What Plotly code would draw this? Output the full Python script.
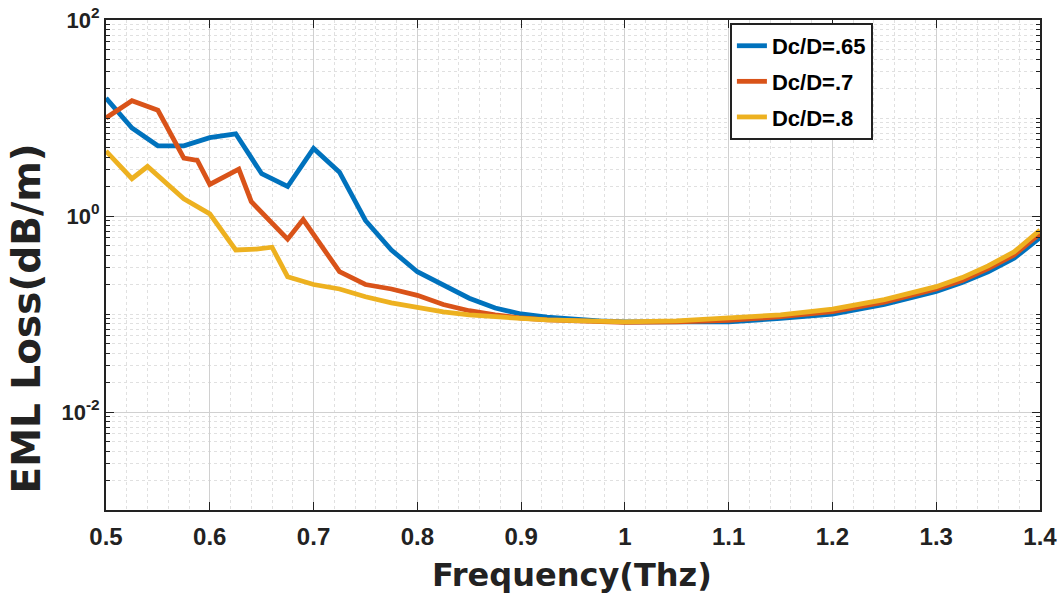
import plotly.graph_objects as go

# Frequency (THz) and EML loss (dB/m) for three core-diameter ratios
freq_065 = [0.5, 0.525, 0.55, 0.575, 0.6, 0.625, 0.65, 0.675, 0.7, 0.725, 0.75, 0.775,
            0.8, 0.825, 0.85, 0.875, 0.9, 0.925, 0.95, 0.975, 1.0, 1.05, 1.1, 1.15,
            1.2, 1.25, 1.3, 1.325, 1.35, 1.375, 1.4]
loss_065 = [16, 7.9, 5.2, 5.2, 6.3, 6.9, 2.7, 2.0, 4.9, 2.8, 0.9, 0.45,
            0.27, 0.2, 0.145, 0.115, 0.1, 0.093, 0.088, 0.085, 0.083, 0.082, 0.083, 0.09,
            0.1, 0.125, 0.17, 0.21, 0.27, 0.37, 0.6]

freq_07 = [0.5, 0.525, 0.55, 0.575, 0.588, 0.6, 0.628, 0.64, 0.675, 0.69, 0.725, 0.75,
           0.775, 0.8, 0.825, 0.85, 0.875, 0.9, 0.925, 0.95, 0.975, 1.0, 1.05, 1.1,
           1.15, 1.2, 1.25, 1.3, 1.325, 1.35, 1.375, 1.4]
loss_07 = [10, 15, 12, 3.9, 3.7, 2.1, 3.0, 1.4, 0.58, 0.92, 0.27, 0.2,
           0.18, 0.155, 0.125, 0.108, 0.098, 0.091, 0.087, 0.085, 0.083, 0.082, 0.083, 0.086,
           0.094, 0.106, 0.132, 0.18, 0.22, 0.29, 0.4, 0.66]

freq_08 = [0.5, 0.525, 0.54, 0.575, 0.6, 0.625, 0.645, 0.66, 0.675, 0.7, 0.725, 0.75,
           0.775, 0.8, 0.825, 0.85, 0.875, 0.9, 0.925, 0.95, 0.975, 1.0, 1.05, 1.1,
           1.15, 1.2, 1.25, 1.3, 1.325, 1.35, 1.375, 1.4]
loss_08 = [4.6, 2.4, 3.2, 1.5, 1.05, 0.45, 0.46, 0.48, 0.24, 0.2, 0.18, 0.15,
           0.13, 0.117, 0.105, 0.098, 0.093, 0.09, 0.087, 0.085, 0.084, 0.083, 0.085, 0.09,
           0.098, 0.112, 0.14, 0.19, 0.235, 0.31, 0.43, 0.72]

series_names = ["Dc/D=.65", "Dc/D=.7", "Dc/D=.8"]
colors = ["#0072BD", "#D95319", "#EDB120"]

x_ticks = [0.5, 0.6, 0.7, 0.8, 0.9, 1.0, 1.1, 1.2, 1.3, 1.4]
x_tick_text = ["0.5", "0.6", "0.7", "0.8", "0.9", "1", "1.1", "1.2", "1.3", "1.4"]
y_ticks = [1e-2, 1e0, 1e2]
y_tick_text = ["10<sup>-2</sup>", "10<sup>0</sup>", "10<sup>2</sup>"]

x_title = "Frequency(Thz)"
y_title = "EML Loss(dB/m)"

tick_font = "Liberation Sans, Arial, sans-serif"
title_font = "DejaVu Sans, Liberation Sans, sans-serif"

fig = go.Figure()
for i, (xs, ys, name, c) in enumerate(zip([freq_065, freq_07, freq_08],
                                          [loss_065, loss_07, loss_08],
                                          series_names, colors)):
    fig.add_trace(go.Scatter(x=xs, y=ys, mode="lines", name=name,
                             legendgroup=f"g{i}",
                             line=dict(color=c, width=4.8)))

# log minor grid: 1..9 in each decade
y_minor = [m * 10 ** e for e in range(-3, 2) for m in range(1, 10)] + [100]
x_minor = [round(0.5 + 0.02 * i, 2) for i in range(46)]

fig.update_layout(
    width=1059, height=600,
    margin=dict(l=106, r=19, t=20, b=90, autoexpand=False),
    paper_bgcolor="white", plot_bgcolor="white",
    showlegend=True,
    legend=dict(x=0.668, y=0.994, xanchor="left", yanchor="top",
                bgcolor="white", bordercolor="#222222", borderwidth=2,
                font=dict(family=tick_font, size=22, color="black", weight="bold"),
                itemwidth=30, tracegroupgap=4),
    font=dict(family=tick_font, color="black"),
)

fig.update_xaxes(
    range=[0.5, 1.4], tickvals=x_ticks, ticktext=x_tick_text,
    tickfont=dict(size=24, family=tick_font, weight="bold", color="#222222"),
    ticks="inside", ticklen=8, tickcolor="#222222", tickwidth=1.2,
    ticklabelstandoff=4, automargin=False,
    showline=True, linecolor="#222222", linewidth=2, mirror="ticks",
    showgrid=True, gridcolor="#d0d0d0", gridwidth=1,
    minor=dict(tickvals=x_minor, showgrid=True, gridcolor="#e0e0e0",
               griddash="dot", gridwidth=1, ticks=""),
    zeroline=False,
)

fig.update_yaxes(
    type="log", range=[-3, 2], tickvals=y_ticks, ticktext=y_tick_text,
    tickfont=dict(size=22, family=tick_font, weight="bold", color="#222222"),
    ticks="inside", ticklen=8, tickcolor="#222222", tickwidth=1.2,
    automargin=False,
    showline=True, linecolor="#222222", linewidth=2, mirror="ticks",
    showgrid=True, gridcolor="#d0d0d0", gridwidth=1,
    minor=dict(tickvals=y_minor, showgrid=True, gridcolor="#e0e0e0",
               griddash="dot", gridwidth=1, ticks="inside", ticklen=4,
               tickcolor="#222222"),
    zeroline=False,
)

# axis titles
fig.add_annotation(text=f"<b>{x_title}</b>", xref="paper", yref="paper",
                   x=0.499, y=-0.133, xanchor="center", yanchor="middle",
                   showarrow=False,
                   font=dict(family=title_font, size=32, color="#222222"))
fig.add_annotation(text=f"<b>{y_title}</b>", xref="paper", yref="paper",
                   x=-0.085, y=0.39, xanchor="center", yanchor="middle",
                   textangle=-90, showarrow=False,
                   font=dict(family=title_font, size=39, color="#222222"))

fig.write_html("out.html")
